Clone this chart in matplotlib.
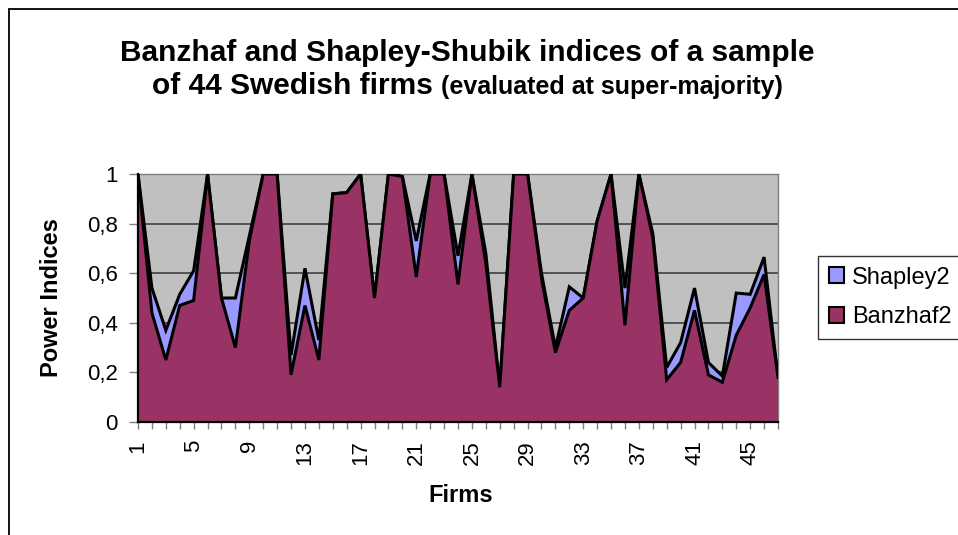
import matplotlib
matplotlib.use('Agg')
import matplotlib.pyplot as plt
from matplotlib.patches import Rectangle, Patch
import numpy as np

plt.rcParams['font.family'] = ['Liberation Sans', 'DejaVu Sans']

# Data (firms 1..47)
firms = list(range(1, 48))
shapley2 = [1.00, 0.54, 0.37, 0.515, 0.61, 1.00, 0.50, 0.50, 0.75, 1.00,
            1.00, 0.27, 0.62, 0.33, 0.92, 0.925, 1.00, 0.50, 1.00, 0.99,
            0.73, 1.00, 1.00, 0.67, 1.00, 0.68, 0.14, 1.00, 1.00, 0.60,
            0.30, 0.545, 0.50, 0.81, 1.00, 0.54, 1.00, 0.76, 0.22, 0.32,
            0.54, 0.24, 0.185, 0.52, 0.515, 0.665, 0.18]
banzhaf2 = [1.00, 0.44, 0.25, 0.47, 0.49, 1.00, 0.50, 0.30, 0.73, 1.00,
            1.00, 0.19, 0.47, 0.25, 0.92, 0.925, 1.00, 0.50, 1.00, 0.99,
            0.585, 1.00, 1.00, 0.555, 1.00, 0.64, 0.14, 1.00, 1.00, 0.58,
            0.28, 0.45, 0.50, 0.81, 1.00, 0.39, 1.00, 0.745, 0.17, 0.24,
            0.45, 0.19, 0.16, 0.35, 0.46, 0.595, 0.18]
y_ticks = [0, 0.2, 0.4, 0.6, 0.8, 1.0]
y_labels = ['0', '0,2', '0,4', '0,6', '0,8', '1']
x_labelled = list(range(1, 47, 4))

W, H = 958, 535
fig = plt.figure(figsize=(W / 100, H / 100), dpi=100)
fig.patch.set_facecolor('white')

def fx(px):
    return px / W

def fy(py):
    return 1 - py / H

# chart-area border (runs off the right and bottom edges)
fig.patches.append(Rectangle((fx(9), -0.2), 1.5, fy(9) + 0.2, transform=fig.transFigure,
                             fill=False, edgecolor='black', linewidth=1.3))

ax = fig.add_axes([fx(138), fy(422), fx(778) - fx(138), fy(174) - fy(422)])
ax.set_facecolor('#C0C0C0')

shap_col = '#9999FF'
banz_col = '#993366'
ax.fill_between(firms, 0, shapley2, facecolor=shap_col, edgecolor='none', zorder=2)
ax.plot(firms, shapley2, color='black', linewidth=2.2, zorder=3, solid_joinstyle='miter')
ax.fill_between(firms, 0, banzhaf2, facecolor=banz_col, edgecolor='none', zorder=4)
ax.plot(firms, banzhaf2, color='black', linewidth=2.2, zorder=5, solid_joinstyle='miter')

ax.set_xlim(1, 47)
ax.set_ylim(0, 1)

ax.set_yticks(y_ticks)
ax.set_yticklabels(y_labels, fontsize=16)
ax.yaxis.grid(True, color='#404040', linewidth=1.2, zorder=1)
ax.set_axisbelow(True)

ax.set_xticks(firms, minor=True)
ax.set_xticks(x_labelled)
ax.set_xticklabels([str(v) for v in x_labelled], rotation=90, fontsize=16)
ax.tick_params(axis='x', which='both', direction='out', length=5, width=1, color='#808080', pad=8)
ax.tick_params(axis='y', direction='out', length=6.5, width=1, color='#808080', pad=8)

for s in ['top', 'right']:
    ax.spines[s].set_color('#808080')
    ax.spines[s].set_linewidth(1)
for s in ['left', 'bottom']:
    ax.spines[s].set_color('black')
    ax.spines[s].set_linewidth(1.6)
    ax.spines[s].set_zorder(6)

fig.text(fx(52), fy(298), 'Power Indices', rotation=90, ha='center', va='center',
         fontsize=17, fontweight='bold')
fig.text(fx(461), fy(495), 'Firms', ha='center', va='center', fontsize=17, fontweight='bold')

# title
fig.text(fx(467), fy(61), 'Banzhaf and Shapley-Shubik indices of a sample', ha='center',
         va='baseline', fontsize=21.5, fontweight='bold')
t_big = fig.text(0, fy(94), 'of 44 Swedish firms ', ha='left', va='baseline',
                 fontsize=21.5, fontweight='bold')
t_small = fig.text(0, fy(94), '(evaluated at super-majority)', ha='left', va='baseline',
                   fontsize=18, fontweight='bold')
fig.canvas.draw()
r = fig.canvas.get_renderer()
w_big = t_big.get_window_extent(r).width
w_small = t_small.get_window_extent(r).width
x0 = 467 - (w_big + w_small) / 2
t_big.set_x(fx(x0))
t_small.set_x(fx(x0 + w_big))

handles = [Patch(facecolor=shap_col, edgecolor='black', linewidth=1.5, label='Shapley2'),
           Patch(facecolor=banz_col, edgecolor='black', linewidth=1.5, label='Banzhaf2')]
leg = fig.legend(handles=handles, loc='upper left', bbox_to_anchor=(fx(818), fy(256)),
                 fontsize=17, frameon=True, fancybox=False, edgecolor='black',
                 handlelength=0.65, handleheight=0.65, handletextpad=0.35,
                 labelspacing=0.75, borderpad=0.45, borderaxespad=0)
leg.get_frame().set_linewidth(1)

fig.savefig('out.png', dpi=100, facecolor='white')
